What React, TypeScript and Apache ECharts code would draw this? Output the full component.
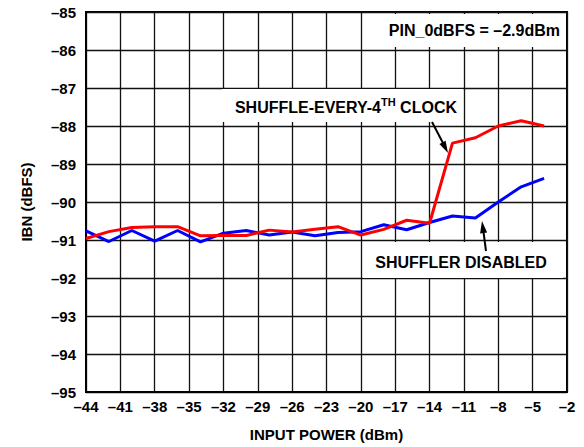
import React, { useEffect, useRef } from "react";
import * as echarts from "echarts";

// Input power (dBm) at each measured point
const inputPower = [-44, -42, -40, -38, -36, -34, -32, -30, -28, -26, -24, -22, -20, -18, -16, -14, -12, -10, -8, -6, -4];
// IBN (dBFS), shuffler disabled (blue)
const shufflerDisabled = [-90.76, -91.04, -90.75, -91.03, -90.75, -91.05, -90.82, -90.75, -90.87, -90.79, -90.89, -90.8, -90.78, -90.6, -90.73, -90.54, -90.37, -90.42, -90.0, -89.6, -89.38];
// IBN (dBFS), shuffle every 4th clock (red)
const shuffleEvery4th = [-90.96, -90.78, -90.67, -90.65, -90.65, -90.89, -90.88, -90.88, -90.74, -90.79, -90.72, -90.65, -90.87, -90.72, -90.48, -90.56, -88.45, -88.31, -88.0, -87.86, -88.0];

const xMin = -44;
const xMax = -2;
const xStep = 3;
const yMin = -95;
const yMax = -85;
const yStep = 1;

const FONT = "Liberation Sans, Arial, sans-serif";
const fmtNeg = (v: number) => (v < 0 ? "\u2013" + Math.abs(Math.round(v)) : String(Math.round(v)));

export default function App() {
  const ref = useRef<HTMLDivElement>(null);
  useEffect(() => {
    if (!ref.current) return;
    const chart = echarts.init(ref.current, undefined, { renderer: "svg" });
    const toPts = (ys: number[]) => inputPower.map((x, i) => [x - xMin, ys[i]]);
    const textBase = { fontFamily: FONT, fontWeight: "bold", fill: "#000" };
    chart.setOption({
      animation: false,
      backgroundColor: "#fff",
      grid: {
        left: 86,
        top: 12,
        right: 17,
        bottom: 53,
        show: true,
        borderColor: "#000",
        borderWidth: 2,
        backgroundColor: "#fff",
      },
      xAxis: {
        type: "value",
        min: 0,
        max: xMax - xMin,
        interval: xStep,
        name: "INPUT POWER (dBm)",
        nameLocation: "middle",
        nameGap: 35,
        nameTextStyle: { fontFamily: FONT, fontWeight: "bold", fontSize: 15, color: "#000" },
        axisLine: { show: true, lineStyle: { color: "#000", width: 2 } },
        axisTick: { show: false },
        axisLabel: {
          formatter: (v: number) => fmtNeg(v + xMin),
          fontFamily: FONT,
          fontWeight: "bold",
          fontSize: 15,
          color: "#000",
          margin: 7,
          showMinLabel: true,
          showMaxLabel: true,
        },
        splitLine: { show: true, lineStyle: { color: "#111", width: 1.3 } },
      },
      yAxis: {
        type: "value",
        min: yMin,
        max: yMax,
        interval: yStep,
        name: "IBN (dBFS)",
        nameLocation: "middle",
        nameGap: 52,
        nameTextStyle: { fontFamily: FONT, fontWeight: "bold", fontSize: 15, color: "#000" },
        axisLine: { show: true, lineStyle: { color: "#000", width: 2 } },
        axisTick: { show: false },
        axisLabel: {
          formatter: (v: number) => fmtNeg(v),
          fontFamily: FONT,
          fontWeight: "bold",
          fontSize: 15,
          color: "#000",
          margin: 10,
        },
        splitLine: { show: true, lineStyle: { color: "#111", width: 1.3 } },
      },
      series: [
        {
          name: "SHUFFLER DISABLED",
          type: "line",
          data: toPts(shufflerDisabled),
          showSymbol: false,
          z: 10,
          lineStyle: { color: "#0000ff", width: 3 },
        },
        {
          name: "SHUFFLE-EVERY-4TH CLOCK",
          type: "line",
          data: toPts(shuffleEvery4th),
          showSymbol: false,
          z: 11,
          lineStyle: { color: "#ff0000", width: 3 },
        },
      ],
      graphic: [
        { type: "rect", z: 5, shape: { x: 363, y: 14, width: 203, height: 33 }, style: { fill: "#fff" } },
        { type: "rect", z: 5, shape: { x: 222, y: 89, width: 241, height: 33 }, style: { fill: "#fff" } },
        { type: "rect", z: 5, shape: { x: 363, y: 242, width: 200, height: 36 }, style: { fill: "#fff" } },
        {
          type: "text",
          z: 20,
          x: 560,
          y: 30,
          style: { ...textBase, text: "PIN_0dBFS = \u20132.9dBm", fontSize: 16, align: "right", verticalAlign: "middle" },
        },
        {
          type: "text",
          z: 20,
          x: 457,
          y: 106,
          style: {
            ...textBase,
            text: "{a|SHUFFLE-EVERY-4}{s|TH}{a| CLOCK}",
            align: "right",
            verticalAlign: "middle",
            rich: {
              a: { fontFamily: FONT, fontWeight: "bold", fontSize: 16, lineHeight: 19, verticalAlign: "bottom", fill: "#000" },
              s: { fontFamily: FONT, fontWeight: "bold", fontSize: 11, lineHeight: 13, verticalAlign: "top", fill: "#000" },
            },
          },
        },
        {
          type: "text",
          z: 20,
          x: 461,
          y: 262,
          style: { ...textBase, text: "SHUFFLER DISABLED", fontSize: 16, align: "center", verticalAlign: "middle" },
        },
        { type: "line", z: 20, shape: { x1: 432, y1: 122, x2: 443, y2: 143 }, style: { stroke: "#000", lineWidth: 2 } },
        { type: "polygon", z: 20, shape: { points: [[448, 153], [439.4, 143.9], [445.6, 140.7]] }, style: { fill: "#000" } },
        { type: "line", z: 20, shape: { x1: 486, y1: 251, x2: 483.5, y2: 232 }, style: { stroke: "#000", lineWidth: 2 } },
        { type: "polygon", z: 20, shape: { points: [[482, 221], [487.1, 232.4], [480.1, 233.4]] }, style: { fill: "#000" } },
      ],
    });
    return () => chart.dispose();
  }, []);
  return <div ref={ref} style={{ position: "absolute", left: 0, top: 0, width: 584, height: 447 }} />;
}
